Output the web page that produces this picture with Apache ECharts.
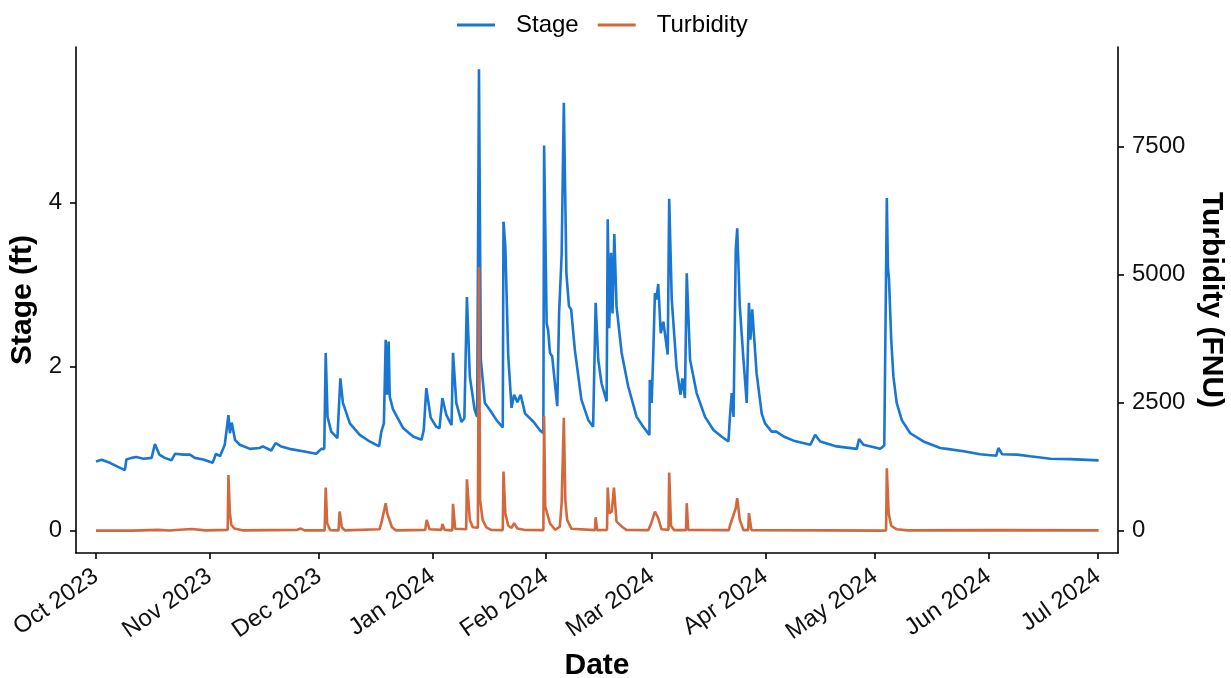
<!DOCTYPE html>
<html lang="en">

<head>
    <meta charset="UTF-8">
    <title>Stage and Turbidity</title>
    <style>
        * {
            padding: 0;
            margin: 0;
            box-sizing: border-box;
        }

        html,
        body,
        .chart-container {
            width: 100%;
            height: 100%;
            background: #fff;
        }
    </style>
</head>

<body>
    <div id="chart-container" class="chart-container"></div>
</body>

</html>
<script src="https://cdn.jsdelivr.net/npm/echarts@6.0.0/dist/echarts.min.js"></script>

<script>
    // days after 1 Oct 2023 (x values)
    const stageDays = [
        0, 1.5, 3.8, 6, 7.9, 8.3, 9.7, 11, 13, 15.2, 16.1, 17.3, 18.8, 20.6, 21.6, 23.9, 25.7, 27, 29.3, 31.9,
        32.8, 33.9, 35.2, 36.2, 36.6, 37.1, 38, 39.3, 42.1, 44.7, 45.6, 47.9, 49.1, 50.6, 52.9, 56.6, 60.2, 61.6,
        62.4, 62.8, 63.3, 64.3, 66, 66.8, 67.5, 69.4, 72.1, 74.8, 77.4, 78, 78.7, 79.2, 79.6, 80, 80.3, 81.2,
        84, 86.7, 89, 89.6, 90.3, 91.5, 93, 93.9, 94.7, 95.8, 97.2, 97.6, 98.5, 99.9, 100.7, 101.1, 101.4,
        102.2, 103.5, 104.2, 104.7, 105.2, 106.3, 107.6, 109.5, 111.2, 111.4, 111.9, 112.7, 113.6, 114.3,
        115.2, 116.1, 117.3, 119.6, 121.3, 122.3, 122.5, 123.2, 123.6, 124.1, 124.7, 126.1, 126.6, 127.3,
        127.9, 128.6, 129.3, 129.9, 130.9, 132.7, 134.6, 135.9, 136.6, 137.3, 138.2, 139.6, 139.9, 140.3,
        140.8, 141.2, 141.7, 142.3, 143.7, 145.5, 147.8, 149.6, 151.3, 151.4, 151.9, 152.3, 152.8, 153.2,
        153.7, 154.4, 155.1, 156.3, 156.7, 157.4, 158.7, 159.8, 160.3, 161, 161.5, 162.4, 164.2, 166.5,
        168.8, 171, 172.9, 173.3, 173.8, 174.3, 174.9, 175.3, 176, 177, 177.9, 178.5, 178.9, 179.4, 180.6,
        182, 182.9, 184.7, 186, 188, 190.7, 195.3, 196.6, 198, 202.5, 208, 208.6, 209.8, 214.4, 215.5, 216,
        216.2, 216.5, 216.8, 217.4, 218, 218.9, 220.3, 222.6, 226.2, 230.8, 232.6, 237.2, 241.7, 246.1,
        246.7, 247.7, 251.8, 255.4, 260.9, 266.4, 274.1
    ]
    // stage (ft)
    const stageValues = [
        0.845, 0.866, 0.83, 0.78, 0.74, 0.87, 0.89, 0.90, 0.88, 0.89, 1.06, 0.93, 0.89, 0.86, 0.94, 0.93, 0.93, 0.89, 0.87, 0.83,
        0.94, 0.91, 1.05, 1.41, 1.19, 1.32, 1.11, 1.05, 1.0, 1.01, 1.03, 0.98, 1.07, 1.03, 1.0, 0.97, 0.94, 1.0,
        1.0, 2.17, 1.39, 1.21, 1.13, 1.86, 1.56, 1.31, 1.17, 1.09, 1.03, 1.21, 1.31, 2.33, 1.66, 2.31, 1.64, 1.48,
        1.25, 1.15, 1.11, 1.23, 1.74, 1.38, 1.27, 1.25, 1.62, 1.41, 1.29, 2.17, 1.56, 1.33, 1.37, 1.37, 2.85,
        1.88, 1.48, 1.39, 5.63, 2.09, 1.56, 1.48, 1.35, 1.26, 3.77, 3.47, 2.13, 1.50, 1.66,
        1.57, 1.66, 1.43, 1.33, 1.23, 1.19, 4.70, 2.53, 2.45, 2.17, 2.13, 1.52, 2.65, 3.37,
        5.22, 3.14, 2.74, 2.70, 2.21, 1.60, 1.35, 1.27, 2.78, 2.09, 1.80, 1.58, 3.80, 2.47,
        3.39, 2.65, 3.62, 2.74, 2.17, 1.76, 1.39, 1.27, 1.17, 1.84, 1.56, 2.09, 2.90, 2.82,
        3.01, 2.41, 2.55, 2.15, 4.05, 2.82, 2.0, 1.66, 1.86, 1.62, 3.14, 2.09, 1.68, 1.39,
        1.23, 1.15, 1.09, 1.39, 1.68, 1.39, 3.43, 3.69, 2.74, 2.09, 1.56, 2.78, 2.33, 2.70, 1.92,
        1.43, 1.31, 1.21, 1.21, 1.15, 1.10, 1.05, 1.17, 1.09, 1.03, 1.0, 1.12, 1.05, 1.0, 1.04, 1.02,
        4.06, 3.22, 3.06, 2.33, 1.88, 1.56, 1.35, 1.19, 1.09, 1.01, 1.0, 0.97, 0.935, 0.915,
        1.01, 0.935, 0.93, 0.91, 0.88, 0.875, 0.86
    ]

    const turbDays = [
        0, 10, 17, 20, 26, 30, 36, 36.2, 36.6, 37, 37.8, 40, 55, 56, 57, 62.5, 62.8, 63.2, 64, 66.3, 66.6,
        67.2, 68, 77.5, 78, 79.2, 79.6, 80, 80.9, 82, 90, 90.4, 91.2, 94.4, 94.7, 95.3, 97.4, 97.6, 98.2,
        101.2, 101.4, 102.2, 103, 104.4, 104.7, 105, 105.7, 106.7, 108, 111.2, 111.4, 111.9, 112.7, 113.6,
        114.3, 115.2, 117, 122.3, 122.5, 122.8, 124.1, 125.5, 126.8, 127.3, 127.9, 128.3, 128.8, 130,
        136.4, 136.6, 137, 139.7, 139.9, 140.3, 141, 141.6, 142.3, 143.9, 145, 151, 151.8, 152.8, 153.7,
        154.6, 156.5, 156.7, 157.2, 158, 161.3, 161.5, 161.9, 173, 173.3, 174.9, 175.3, 176, 177, 178.3,
        178.5, 179.2, 200, 215, 216, 216.2, 216.7, 217.4, 218.9, 222, 246, 274.1
    ]
    // turbidity (FNU)
    const turbValues = [
        5, 5, 20, 8, 35, 10, 20, 1091, 345, 117, 45, 10, 20, 45, 10, 10, 845, 150, 15, 10, 377,
        70, 10, 30, 150, 540, 345, 310, 70, 10, 20, 214, 30, 20, 136, 20, 10, 526, 40,
        30, 1007, 214, 70, 60, 5150, 604, 214, 70, 20, 15, 1156, 345, 100, 60,
        150, 45, 20, 15, 2241, 475, 150, 20, 80, 540, 2208, 600, 214, 40,
        15, 266, 15, 20, 845, 345, 377, 845, 180, 75, 20, 15, 150, 377, 250,
        30, 20, 1136, 100, 15, 15, 540, 20, 15, 100, 442, 637, 214, 15, 15,
        345, 15, 10, 5, 10, 1221, 345, 100, 30, 10, 15, 10
    ]

    // month ticks on the date axis
    const monthDays = [0, 31, 61, 92, 123, 152, 183, 213, 244, 274]
    const monthLabels = ['Oct 2023', 'Nov 2023', 'Dec 2023', 'Jan 2024', 'Feb 2024',
        'Mar 2024', 'Apr 2024', 'May 2024', 'Jun 2024', 'Jul 2024']
    const stageTicks = [0, 2, 4]
    const turbTicks = [0, 2500, 5000, 7500]

    const stageColor = '#1976D2'
    const turbColor = '#D2693C'
    const font = 'Liberation Sans, Arial, sans-serif'

    const stageData = stageDays.map((d, i) => [d, stageValues[i]])
    const turbData = turbDays.map((d, i) => [d, turbValues[i]])

    var myChart = echarts.init(document.getElementById('chart-container'))

    const axisLine = {
        show: true,
        onZero: false,
        lineStyle: { color: '#000', width: 1.6 }
    }
    const tickStyle = { color: '#000', width: 1.6 }
    const titleStyle = { fontSize: 30, fontWeight: 'bold', color: '#000', fontFamily: font }

    var option = {
        backgroundColor: '#fff',
        animation: false,
        textStyle: { fontFamily: font },
        legend: {
            top: 8,
            left: 452,
            icon: 'rect',
            itemWidth: 38,
            itemHeight: 3,
            itemGap: 19,
            textStyle: {
                fontSize: 24,
                color: '#000',
                fontFamily: font,
                padding: [0, 0, 0, 16]
            },
            data: ['Stage', 'Turbidity']
        },
        grid: {
            left: 76,
            right: 113,
            top: 47,
            bottom: 125,
            outerBoundsMode: 'none'
        },
        xAxis: {
            type: 'value',
            min: -5.47,
            max: 279.4,
            name: 'Date',
            nameLocation: 'middle',
            nameGap: 97,
            nameTextStyle: titleStyle,
            axisLine: axisLine,
            splitLine: { show: false },
            axisTick: {
                show: true,
                length: 6,
                customValues: monthDays,
                lineStyle: tickStyle
            },
            axisLabel: {
                customValues: monthDays,
                rotate: 35,
                margin: 21,
                fontSize: 24,
                color: '#111',
                fontFamily: font,
                formatter: function (v) {
                    return monthLabels[monthDays.indexOf(Math.round(v))]
                }
            }
        },
        yAxis: [{
                type: 'value',
                position: 'left',
                min: -0.27,
                max: 5.9,
                name: 'Stage (ft)',
                nameLocation: 'middle',
                nameGap: 36,
                nameTextStyle: titleStyle,
                axisLine: axisLine,
                splitLine: { show: false },
                axisTick: {
                    show: true,
                    length: 6,
                    customValues: stageTicks,
                    lineStyle: tickStyle
                },
                axisLabel: {
                    customValues: stageTicks,
                    margin: 14,
                    fontSize: 24,
                    color: '#111',
                    fontFamily: font,
                    formatter: function (v) {
                        return String(v)
                    }
                }
            },
            {
                type: 'value',
                position: 'right',
                min: -432,
                max: 9440,
                name: 'Turbidity (FNU)',
                nameLocation: 'middle',
                nameRotate: -90,
                nameGap: 78,
                nameTextStyle: titleStyle,
                axisLine: axisLine,
                splitLine: { show: false },
                axisTick: {
                    show: true,
                    length: 6,
                    customValues: turbTicks,
                    lineStyle: tickStyle
                },
                axisLabel: {
                    customValues: turbTicks,
                    margin: 14,
                    fontSize: 24,
                    color: '#111',
                    fontFamily: font,
                    formatter: function (v) {
                        return String(v)
                    }
                }
            }
        ],
        series: [{
                name: 'Stage',
                type: 'line',
                yAxisIndex: 0,
                data: stageData,
                symbol: 'none',
                showSymbol: false,
                color: stageColor,
                lineStyle: { color: stageColor, width: 2.6 }
            },
            {
                name: 'Turbidity',
                type: 'line',
                yAxisIndex: 1,
                data: turbData,
                symbol: 'none',
                showSymbol: false,
                color: turbColor,
                lineStyle: { color: turbColor, width: 2.6 }
            }
        ]
    }
    myChart.setOption(option)
</script>
